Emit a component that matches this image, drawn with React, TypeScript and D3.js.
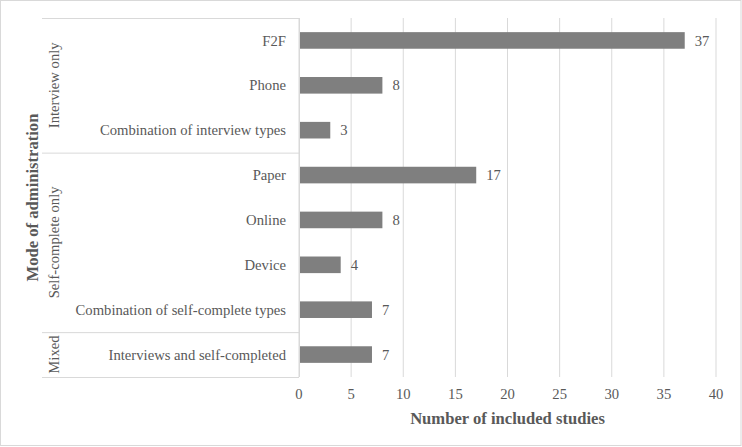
import React from "react";
import * as d3 from "d3";

// categories top to bottom, with the group each belongs to
const categories = [
  "F2F",
  "Phone",
  "Combination of interview types",
  "Paper",
  "Online",
  "Device",
  "Combination of self-complete types",
  "Interviews and self-completed",
];
const values = [37, 8, 3, 17, 8, 4, 7, 7];
const groups = ["Interview only", "Self-complete only", "Mixed"];
const groupSizes = [3, 4, 1];
const xTicks = [0, 5, 10, 15, 20, 25, 30, 35, 40];

const W = 742;
const H = 447;
const FONT = "Liberation Serif";
const TEXT = "#595959";
const GRID = "#d9d9d9";
const FS = 14.67;
const TITLE_FS = 16.6;

const App = () => {
  const margin = { top: 18, right: 26, bottom: 70, left: 299 };
  const plotW = W - margin.left - margin.right;
  const plotH = 377 - margin.top;

  const x = d3.scaleLinear().domain([0, 40]).range([0, plotW]);
  const y = d3.scaleBand().domain(categories).range([0, plotH]).padding(0);
  const barH = y.bandwidth() * 0.37;

  // group boundaries in band units
  let acc = 0;
  const groupSpans = groupSizes.map((n, i) => {
    const start = acc;
    acc += n;
    return { name: groups[i], y0: start * y.step(), y1: acc * y.step() };
  });

  const txt = { fontFamily: FONT };

  return (
    <svg
      width={W}
      height={H}
      style={{ position: "fixed", left: 0, top: 0, background: "#fff" }}
    >
      <rect x={0.5} y={0.5} width={W - 1.5} height={H - 2} fill="#fff" stroke={GRID} />
      <g transform={`translate(${margin.left},${margin.top})`}>
        {/* vertical gridlines */}
        {xTicks.map((t) => (
          <line
            key={"g" + t}
            x1={x(t)}
            x2={x(t)}
            y1={0}
            y2={plotH}
            stroke={GRID}
            strokeWidth={1}
          />
        ))}
        {/* bars */}
        {categories.map((c, i) => {
          const cy = (y(c) ?? 0) + y.bandwidth() / 2;
          return (
            <g key={c}>
              <rect
                x={x(0)}
                y={cy - barH / 2}
                width={x(values[i]) - x(0)}
                height={barH}
                fill="#7f7f7f"
              />
              <text
                x={x(values[i]) + 10}
                y={cy}
                dy="0.35em"
                fontSize={FS}
                fill={TEXT}
                style={txt}
              >
                {values[i]}
              </text>
              <text
                x={-13}
                y={cy}
                dy="0.35em"
                textAnchor="end"
                fontSize={FS}
                fill={TEXT}
                style={txt}
              >
                {c}
              </text>
            </g>
          );
        })}
        {/* category axis line */}
        <line x1={0.5} x2={0.5} y1={0} y2={plotH} stroke={GRID} />
        {/* group separators */}
        {[0, ...groupSpans.map((g) => g.y1)].map((yy, i) => (
          <line
            key={"s" + i}
            x1={42 - margin.left}
            x2={0}
            y1={yy + 0.5}
            y2={yy + 0.5}
            stroke={GRID}
          />
        ))}
        {groupSpans.map((g) => (
          <text
            key={g.name}
            transform={`translate(${54 - margin.left},${(g.y0 + g.y1) / 2}) rotate(-90)`}
            textAnchor="middle"
            dy="0.35em"
            fontSize={FS}
            fill={TEXT}
            style={txt}
          >
            {g.name}
          </text>
        ))}
        {/* x tick labels */}
        {xTicks.map((t) => (
          <text
            key={"t" + t}
            x={x(t)}
            y={plotH + 17}
            dy="0.35em"
            textAnchor="middle"
            fontSize={FS}
            fill={TEXT}
            style={txt}
          >
            {t}
          </text>
        ))}
        <text
          x={plotW / 2}
          y={plotH + 41}
          dy="0.35em"
          textAnchor="middle"
          fontSize={TITLE_FS}
          fontWeight="bold"
          fill={TEXT}
          style={txt}
        >
          Number of included studies
        </text>
        <text
          transform={`translate(${32 - margin.left},${plotH / 2}) rotate(-90)`}
          dy="0.35em"
          textAnchor="middle"
          fontSize={TITLE_FS}
          fontWeight="bold"
          fill={TEXT}
          style={txt}
        >
          Mode of administration
        </text>
      </g>
    </svg>
  );
};

export default App;
